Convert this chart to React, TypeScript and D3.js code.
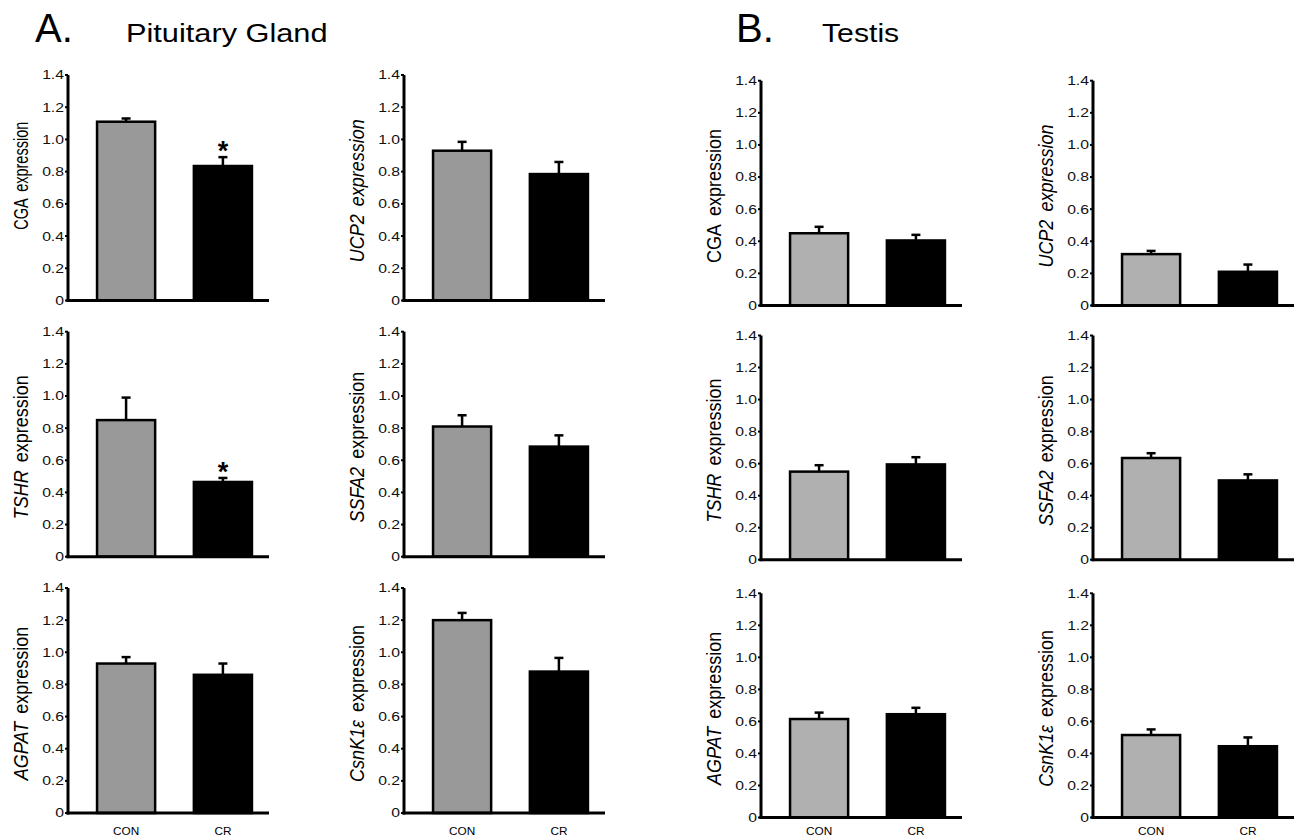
import React from "react";
import * as d3 from "d3";

const genes = ["CGA", "UCP2", "TSHR", "SSFA2", "AGPAT", "CsnK1ε"];
const italicGene = [false, true, true, true, true, true];
const italicWord = [false, true, false, false, false, false];
const groups = ["CON", "CR"];
const tickValues = [0, 0.2, 0.4, 0.6, 0.8, 1.0, 1.2, 1.4];

const pitCON = [1.11, 0.93, 0.85, 0.81, 0.93, 1.2];
const pitCONerr = [0.02, 0.055, 0.14, 0.07, 0.04, 0.045];
const pitCR = [0.835, 0.785, 0.465, 0.685, 0.86, 0.88];
const pitCRerr = [0.055, 0.075, 0.025, 0.07, 0.07, 0.085];
const pitSig = [true, false, true, false, false, false];

const tesCON = [0.45, 0.32, 0.55, 0.635, 0.615, 0.515];
const tesCONerr = [0.04, 0.02, 0.04, 0.03, 0.04, 0.035];
const tesCR = [0.405, 0.21, 0.595, 0.495, 0.645, 0.445];
const tesCRerr = [0.035, 0.045, 0.045, 0.038, 0.04, 0.055];
const tesSig = [false, false, false, false, false, false];

const FONT = "'Liberation Sans', Arial, Helvetica, sans-serif";

type PanelProps = {
  ax: number;
  top: number;
  bottom: number;
  gi: number;
  con: number;
  conErr: number;
  cr: number;
  crErr: number;
  sig: boolean;
  conFill: string;
  showX: boolean;
  small: boolean;
};

function Panel(p: PanelProps) {
  const y = d3.scaleLinear().domain([0, 1.4]).range([p.bottom, p.top]);
  const x = d3
    .scaleBand<string>()
    .domain(groups)
    .range([p.ax, p.ax + 213])
    .paddingInner(0.4)
    .paddingOuter(0.3);
  const vals = [p.con, p.cr];
  const errs = [p.conErr, p.crErr];
  const fills = [p.conFill, "#000"];
  const fmt = (d: number) => (d === 0 ? "0" : d3.format(".1f")(d));
  const midY = (p.top + p.bottom) / 2 + (p.small ? -12 : 3);
  const labelSize = p.small ? 14.5 : 18;
  const labelSx = p.small ? 1.42 : 1.15;
  return (
    <g>
      {groups.map((g, i) => {
        const bx = x(g)!;
        const bw = x.bandwidth();
        const cx = bx + bw / 2;
        const yt = y(vals[i]);
        const ye = y(vals[i] + errs[i]);
        return (
          <g key={g}>
            <line x1={cx} x2={cx} y1={yt} y2={ye} stroke="#000" strokeWidth={2.5} />
            <line x1={cx - 4.5} x2={cx + 4.5} y1={ye} y2={ye} stroke="#000" strokeWidth={2.5} />
            <rect
              x={bx}
              y={yt}
              width={bw}
              height={p.bottom - yt}
              fill={fills[i]}
              stroke="#000"
              strokeWidth={2.5}
            />
            {i === 1 && p.sig && (
              <text
                x={cx}
                y={ye + 3}
                textAnchor="middle"
                fontSize={27}
                fontWeight="bold"
                fontFamily={FONT}
                fill="#000"
              >
                *
              </text>
            )}
            {p.showX && (
              <text x={cx} y={835} textAnchor="middle" fontSize={11.8} fontFamily={FONT} fill="#000">
                {g}
              </text>
            )}
          </g>
        );
      })}
      <line x1={p.ax} x2={p.ax} y1={p.top} y2={p.bottom + 1.5} stroke="#000" strokeWidth={3} />
      <line x1={p.ax - 1.5} x2={p.ax + 201} y1={p.bottom} y2={p.bottom} stroke="#000" strokeWidth={3} />
      {tickValues.map((t) => (
        <g key={t}>
          <line x1={p.ax - 3} x2={p.ax} y1={y(t)} y2={y(t)} stroke="#000" strokeWidth={2} />
          <text
            transform={`translate(${p.ax - 4},${y(t)}) scale(1.28,1)`}
            dy="0.36em"
            textAnchor="end"
            fontSize={12.3}
            fontFamily={FONT}
            fill="#111"
          >
            {fmt(t)}
          </text>
        </g>
      ))}
      <text
        transform={`translate(${p.ax - 47},${midY}) scale(${labelSx},1) rotate(-90)`}
        textAnchor="middle"
        dy="0.35em"
        fontSize={labelSize}
        fontFamily={FONT}
        fill="#000"
      >
        <tspan fontStyle={italicGene[p.gi] ? "italic" : "normal"}>{genes[p.gi]}</tspan>
        <tspan dx={labelSize * 0.45} fontStyle={italicWord[p.gi] ? "italic" : "normal"}>
          expression
        </tspan>
      </text>
    </g>
  );
}

const aCols = [68, 404];
const bCols = [761, 1093];
const aTops = [75, 331.7, 588];
const aBottoms = [300.5, 556.7, 813];
const bTops = [80.7, 335.5, 593.3];
const bBottoms = [305.5, 559.7, 817.5];

export default function App() {
  const panels: React.ReactNode[] = [];
  for (let r = 0; r < 3; r++) {
    for (let c = 0; c < 2; c++) {
      const gi = r * 2 + c;
      panels.push(
        <Panel
          key={`a${gi}`}
          ax={aCols[c]}
          top={aTops[r]}
          bottom={aBottoms[r]}
          gi={gi}
          con={pitCON[gi]}
          conErr={pitCONerr[gi]}
          cr={pitCR[gi]}
          crErr={pitCRerr[gi]}
          sig={pitSig[gi]}
          conFill="#999999"
          showX={r === 2}
          small={gi === 0}
        />
      );
      panels.push(
        <Panel
          key={`b${gi}`}
          ax={bCols[c]}
          top={bTops[r]}
          bottom={bBottoms[r]}
          gi={gi}
          con={tesCON[gi]}
          conErr={tesCONerr[gi]}
          cr={tesCR[gi]}
          crErr={tesCRerr[gi]}
          sig={tesSig[gi]}
          conFill="#b0b0b0"
          showX={r === 2}
          small={false}
        />
      );
    }
  }
  return (
    <svg
      width={1299}
      height={839}
      style={{ position: "absolute", left: 0, top: 0, background: "#fff" }}
    >
      <rect width={1299} height={839} fill="#fff" />
      <text x={35} y={42} fontSize={40} fontFamily={FONT} fill="#000">
        A.
      </text>
      <text transform="translate(126,42) scale(1.16,1)" fontSize={26.5} fontFamily={FONT} fill="#000">
        Pituitary Gland
      </text>
      <text x={736} y={42} fontSize={40} fontFamily={FONT} fill="#000">
        B.
      </text>
      <text transform="translate(822,42) scale(1.14,1)" fontSize={26.5} fontFamily={FONT} fill="#000">
        Testis
      </text>
      {panels}
    </svg>
  );
}
